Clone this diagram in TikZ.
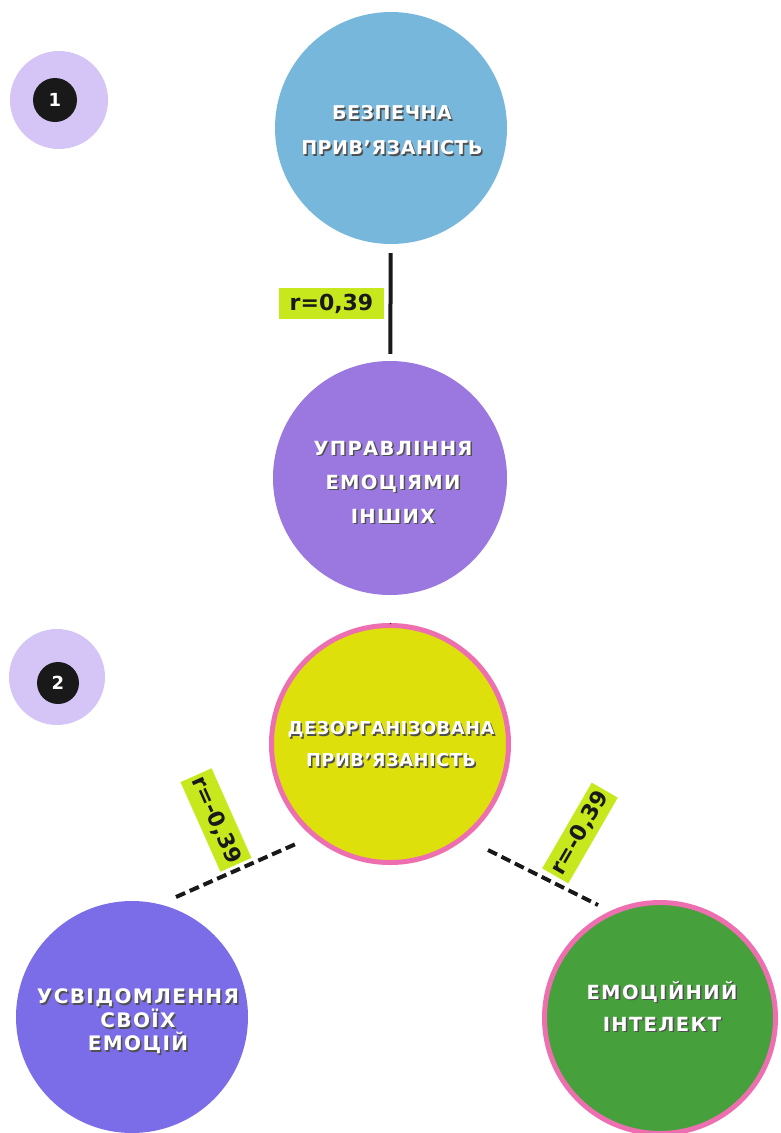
\documentclass[tikz,border=0pt]{standalone}
\usepackage{fontspec}
\setmainfont{DejaVu Sans}
\newfontfamily\cfont[LetterSpace=3]{DejaVu Sans Bold}
\newfontfamily\cwfont[LetterSpace=7]{DejaVu Sans Bold}
\newfontfamily\lfont{DejaVu Sans Bold}
\definecolor{lav}{HTML}{D5C5F6}
\definecolor{cblue}{HTML}{77B7DB}
\definecolor{cpurple}{HTML}{9B77E0}
\definecolor{cyellow}{HTML}{DDE00B}
\definecolor{cpink}{HTML}{EE6FB0}
\definecolor{cviolet}{HTML}{7B6CE8}
\definecolor{cgreen}{HTML}{46A03C}
\definecolor{lblgreen}{HTML}{C6E81C}
\definecolor{shd}{HTML}{505050}
\newcommand\shl[1]{\rlap{\kern1.5pt\raisebox{-1.5pt}{\textcolor{shd}{#1}}}#1}
\begin{document}
\begin{tikzpicture}[x=1pt,y=-1pt,
  badgebg/.style={circle, fill=lav, inner sep=0pt},
  badgenum/.style={circle, fill=black!90, text=white, inner sep=0pt, font=\lfont\fontsize{18}{18}\selectfont},
  bubble/.style={circle, inner sep=0pt},
  btext/.style={align=center, text=white, inner sep=0pt},
  corr/.style={fill=lblgreen, inner sep=0pt, text=black!90, font=\lfont\fontsize{22}{22}\selectfont},
  solidlink/.style={line width=4pt, black!90},
  dashlink/.style={line width=4pt, black!90, dash pattern=on 10pt off 5pt}
]
\useasboundingbox (0,0) rectangle (781,1133);
\fill[white] (0,0) rectangle (781,1133);

% badges
\node[badgebg, minimum size=98pt] (b1bg) at (59,100) {};
\node[badgenum, minimum size=44pt] (b1) at (55,100) {1};
\node[badgebg, minimum size=96pt] (b2bg) at (57,677) {};
\node[badgenum, minimum size=42pt] (b2) at (58,683) {2};

% diagram 1
\node[bubble, fill=cblue, minimum size=232pt] (safe) at (391,128) {};
\node[btext, font=\cfont\fontsize{19}{35}\selectfont] (safetext) at (392,131)
  {\shl{БЕЗПЕЧНА}\\\shl{ПРИВ’ЯЗАНІСТЬ}};
\node[bubble, fill=cpurple, minimum size=234pt] (manage) at (390,478) {};
\node[btext, font=\cwfont\fontsize{19.5}{34}\selectfont] (managetext) at (393,483)
  {\shl{УПРАВЛІННЯ}\\\shl{ЕМОЦІЯМИ}\\\shl{ІНШИХ}};
\draw[solidlink, shorten <=9pt, shorten >=7pt] (safe) -- (manage);
\node[corr, minimum width=105pt, minimum height=31pt] (r1) at (331.5,303.5) {r=0,39};

% diagram 2
\node[bubble, fill=cyellow, draw=cpink, line width=5pt, minimum size=237pt] (disorg) at (390,744) {};
\node[btext, font=\cfont\fontsize{17.8}{32}\selectfont] (disorgtext) at (391,745)
  {\shl{ДЕЗОРГАНІЗОВАНА}\\\shl{ПРИВ’ЯЗАНІСТЬ}};
\coordinate (tick) at (391,624);
\draw[black!80, line width=1pt] (tick) -- (disorg.north);
\node[bubble, fill=cviolet, minimum size=232pt] (aware) at (132,1017) {};
\node[btext, font=\cwfont\fontsize{20}{23}\selectfont] (awaretext) at (138,1022)
  {\shl{УСВІДОМЛЕННЯ}\\\shl{СВОЇХ}\\\shl{ЕМОЦІЙ}};
\node[bubble, fill=cgreen, draw=cpink, line width=5pt, minimum size=231pt] (ei) at (660,1018) {};
\node[btext, font=\cwfont\fontsize{19.5}{32}\selectfont] (eitext) at (662,1007)
  {\shl{ЕМОЦІЙНИЙ}\\\shl{ІНТЕЛЕКТ}};

\coordinate (l1) at (176,897);
\coordinate (l2) at (298,843);
\coordinate (r1a) at (488,850);
\coordinate (r1b) at (598,905);
\draw[dashlink] (l1) -- (l2);
\draw[dashlink] (r1a) -- (r1b);
\node[corr, rotate=-66, minimum width=98pt, minimum height=34pt] (r2) at (216,820) {r=-0,39};
\node[corr, rotate=60, minimum width=99pt, minimum height=30pt] (r3) at (580,833) {r=-0,39};
\end{tikzpicture}
\end{document}
